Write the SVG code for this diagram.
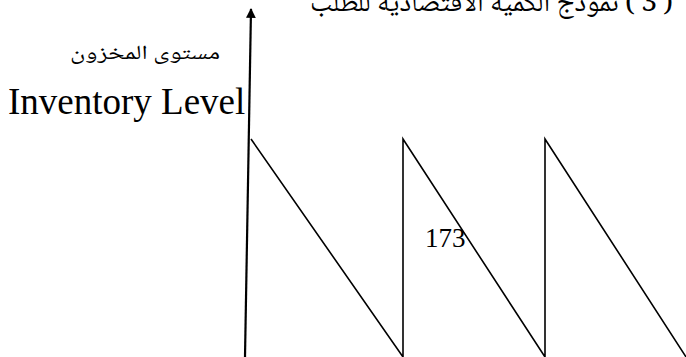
<svg xmlns="http://www.w3.org/2000/svg" width="686" height="357" viewBox="0 0 686 357">
  <style>
    .ar { font-family: "Noto Naskh Arabic", "Noto Sans Arabic", "DejaVu Sans", sans-serif; fill: #000; }
    .en { font-family: "Liberation Serif", "Times New Roman", serif; fill: #000; }
    .saw { fill: none; stroke: #000; stroke-width: 1.6; stroke-linejoin: miter; }
    .axis { stroke: #000; stroke-width: 2.2; fill: none; }
  </style>
  <defs>
    <marker id="arrow" viewBox="0 0 10 10" refX="9" refY="5" markerWidth="4.5" markerHeight="4.5" orient="auto" markerUnits="strokeWidth">
      <path d="M0,0 L10,5 L0,10 z" fill="#000"/>
    </marker>
  </defs>
  <rect width="686" height="357" fill="#fff"/>

  <g id="title">
    <text class="ar" x="673" y="11" font-size="28" direction="rtl" text-anchor="start" textLength="363" lengthAdjust="spacingAndGlyphs">( 3 ) نموذج الكمية الاقتصادية للطلب</text>
  </g>

  <g id="y-axis-label">
    <text class="ar" x="220" y="59" font-size="20" direction="rtl" text-anchor="start" textLength="150" lengthAdjust="spacingAndGlyphs">مستوى المخزون</text>
    <text class="en" x="8" y="114" font-size="37">Inventory Level</text>
  </g>

  <g id="connectors">
    <line class="axis" x1="245" y1="357" x2="251" y2="9" marker-end="url(#arrow)"/>
    <polyline class="saw" points="251,139 403,357 403,139 545,357 545,139 688,360"/>
  </g>

  <g id="page-number">
    <text class="en" x="425" y="247" font-size="27">173</text>
  </g>
</svg>
